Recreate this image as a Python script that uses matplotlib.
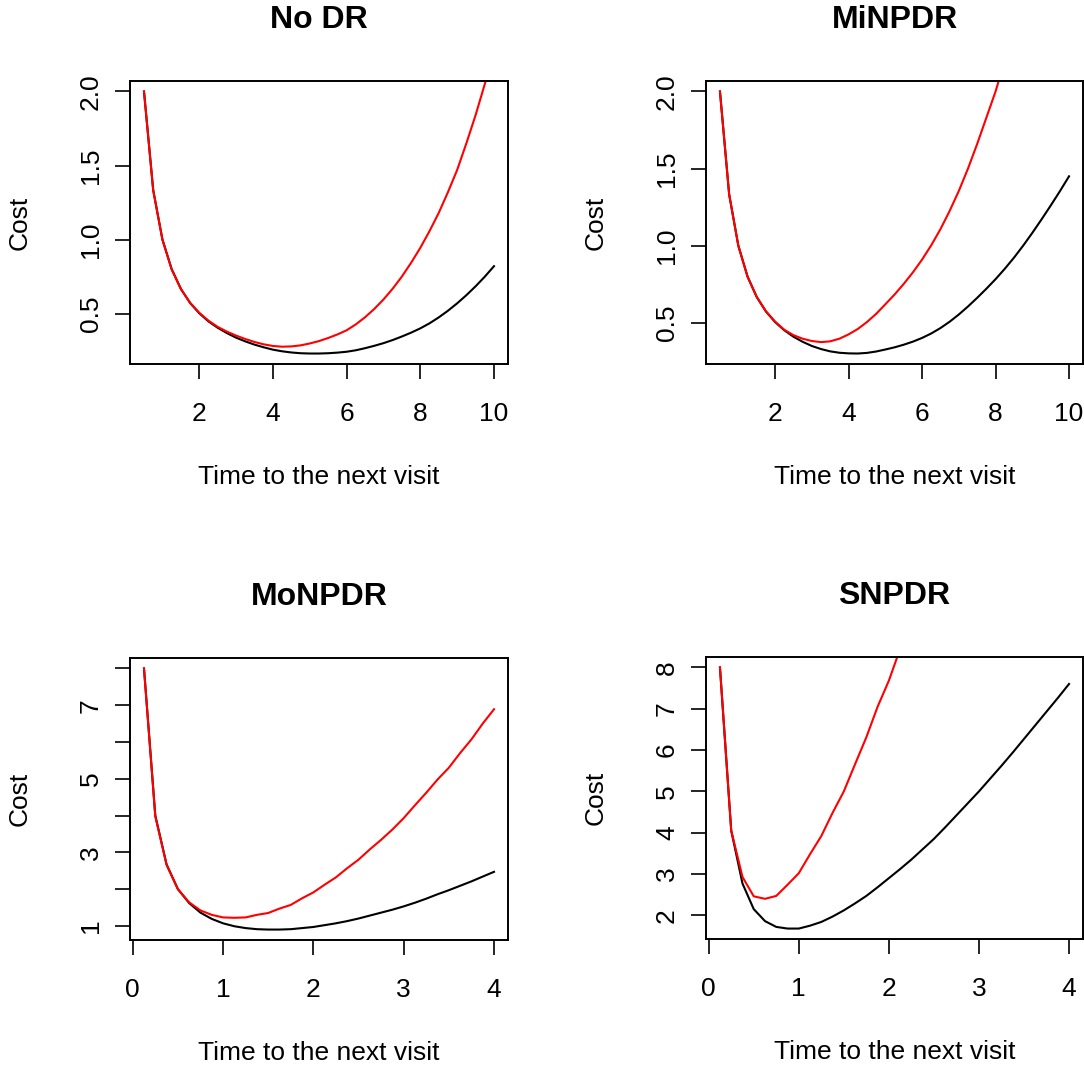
import matplotlib
matplotlib.use('Agg')
import matplotlib.pyplot as plt

plt.rcParams['font.family'] = ['Liberation Sans', 'DejaVu Sans']

# data
titles = ['No DR', 'MiNPDR', 'MoNPDR', 'SNPDR']
xlab = 'Time to the next visit'
ylab = 'Cost'

x_top = [0.5, 0.75, 1, 1.25, 1.5, 1.75, 2, 2.25, 2.5, 2.75, 3, 3.25, 3.5,
         3.75, 4, 4.25, 4.5, 4.75, 5, 5.25, 5.5, 5.75, 6, 6.25, 6.5, 6.75,
         7, 7.25, 7.5, 7.75, 8, 8.25, 8.5, 8.75, 9, 9.25, 9.5, 9.75, 10]

nodr_black = [2.0, 1.333, 1.0, 0.80, 0.667, 0.572, 0.502, 0.447, 0.404,
              0.368, 0.337, 0.312, 0.29, 0.272, 0.256, 0.245, 0.237, 0.232,
              0.23, 0.23, 0.232, 0.236, 0.242, 0.252, 0.266, 0.282, 0.30,
              0.321, 0.345, 0.371, 0.40, 0.434, 0.474, 0.519, 0.569, 0.624,
              0.684, 0.749, 0.82]
nodr_red = [2.0, 1.333, 1.0, 0.80, 0.667, 0.573, 0.505, 0.452, 0.41, 0.378,
            0.351, 0.328, 0.308, 0.292, 0.281, 0.276, 0.278, 0.285, 0.298,
            0.314, 0.335, 0.359, 0.387, 0.427, 0.475, 0.531, 0.595, 0.668,
            0.75, 0.843, 0.944, 1.057, 1.18, 1.32, 1.47, 1.65, 1.84, 2.05,
            2.27]

minpdr_black = [2.0, 1.333, 1.0, 0.80, 0.668, 0.574, 0.505, 0.452, 0.41,
                0.377, 0.35, 0.33, 0.315, 0.306, 0.302, 0.301, 0.305, 0.314,
                0.327, 0.341, 0.358, 0.378, 0.402, 0.431, 0.466, 0.507, 0.554,
                0.606, 0.662, 0.721, 0.783, 0.85, 0.922, 1.0, 1.083, 1.17,
                1.26, 1.353, 1.45]
minpdr_red = [2.0, 1.333, 1.0, 0.80, 0.668, 0.575, 0.508, 0.455, 0.42, 0.397,
              0.382, 0.375, 0.38, 0.397, 0.425, 0.46, 0.505, 0.558, 0.62,
              0.683, 0.752, 0.827, 0.91, 1.003, 1.107, 1.225, 1.355, 1.5,
              1.66, 1.83, 2.0, 2.2, 2.4, 2.62, 2.85, 3.07, 3.3, 3.55, 3.8]

x_bot = [0.125, 0.25, 0.375, 0.5, 0.625, 0.75, 0.875, 1.0, 1.125, 1.25,
         1.375, 1.5, 1.625, 1.75, 1.875, 2.0, 2.125, 2.25, 2.375, 2.5,
         2.625, 2.75, 2.875, 3.0, 3.125, 3.25, 3.375, 3.5, 3.625, 3.75,
         3.875, 4.0]

monpdr_black = [8.0, 4.0, 2.67, 2.0, 1.62, 1.36, 1.19, 1.07, 0.99, 0.94,
                0.91, 0.90, 0.90, 0.91, 0.94, 0.97, 1.02, 1.07, 1.13, 1.20,
                1.28, 1.36, 1.44, 1.53, 1.63, 1.74, 1.86, 1.97, 2.09, 2.21,
                2.34, 2.47]
monpdr_red = [8.0, 3.98, 2.66, 2.0, 1.64, 1.42, 1.30, 1.23, 1.22, 1.23,
              1.30, 1.35, 1.47, 1.57, 1.75, 1.91, 2.12, 2.32, 2.57, 2.80,
              3.08, 3.34, 3.62, 3.93, 4.28, 4.62, 4.98, 5.30, 5.70, 6.07,
              6.50, 6.89]

snpdr_black = [8.0, 4.05, 2.77, 2.15, 1.86, 1.72, 1.68, 1.68, 1.75, 1.84,
               1.97, 2.12, 2.29, 2.47, 2.68, 2.90, 3.12, 3.35, 3.60, 3.85,
               4.13, 4.42, 4.71, 5.0, 5.31, 5.62, 5.94, 6.27, 6.60, 6.93,
               7.26, 7.60]
snpdr_red = [8.0, 4.05, 2.93, 2.46, 2.40, 2.47, 2.74, 3.02, 3.48, 3.92,
             4.48, 5.0, 5.66, 6.31, 7.05, 7.68, 8.45, 9.2, 10.0, 10.9,
             11.8, 12.7, 13.7, 14.7, 15.8, 16.9, 18.0, 19.2, 20.4, 21.7,
             23.0, 24.4]

W, H = 1084, 1069
fig = plt.figure(figsize=(W / 100, H / 100), dpi=100)

# axes boxes in pixels: left, top, right, bottom
boxes = [(130, 81, 508, 364), (706, 81, 1083, 364),
         (130, 658, 508, 940), (706, 657, 1083, 939)]

panels = [
    (x_top, nodr_black, nodr_red, [2, 4, 6, 8, 10], [0.5, 1.0, 1.5, 2.0],
     ['0.5', '1.0', '1.5', '2.0']),
    (x_top, minpdr_black, minpdr_red, [2, 4, 6, 8, 10], [0.5, 1.0, 1.5, 2.0],
     ['0.5', '1.0', '1.5', '2.0']),
    (x_bot, monpdr_black, monpdr_red, [0, 1, 2, 3, 4], [1, 2, 3, 4, 5, 6, 7, 8],
     ['1', '', '3', '', '5', '', '7', '']),
    (x_bot, snpdr_black, snpdr_red, [0, 1, 2, 3, 4], [2, 3, 4, 5, 6, 7, 8],
     ['2', '3', '4', '5', '6', '7', '8']),
]


def padded(vals, f=0.04):
    lo, hi = min(vals), max(vals)
    d = (hi - lo) * f
    return lo - d, hi + d


fs = 19
for (l, t, r, b), title, (xs, blk, red, xt, yt, ytl) in zip(boxes, titles, panels):
    ax = fig.add_axes([l / W, 1 - b / H, (r - l) / W, (b - t) / H])
    ax.plot(xs, blk, color='black', lw=1.5)
    ax.plot(xs, red, color='red', lw=1.5)
    # limits follow the black series only, like R's plot() + lines()
    ax.set_xlim(padded(xs))
    ax.set_ylim(padded(blk))

    ax.set_xticks(xt)
    ax.set_xticklabels([str(v) for v in xt])
    ax.set_yticks(yt)
    ax.set_yticklabels(ytl, rotation=90, va='center')
    ax.tick_params(axis='both', direction='out', length=10.5, width=1.2,
                   labelsize=fs)
    ax.tick_params(axis='x', pad=17)
    ax.tick_params(axis='y', pad=9)
    for s in ax.spines.values():
        s.set_linewidth(1.4)

    cx = (l + r) / 2
    fig.text(cx / W, 1 - (t - 61) / H, title, ha='center', va='center',
             fontsize=23, fontweight='bold')
    fig.text(cx / W, 1 - (b + 113) / H, xlab, ha='center', va='center',
             fontsize=fs)
    fig.text((l - 110) / W, 1 - ((t + b) / 2) / H, ylab, ha='center',
             va='center', rotation=90, fontsize=fs)

fig.savefig('out.png', dpi=100)
